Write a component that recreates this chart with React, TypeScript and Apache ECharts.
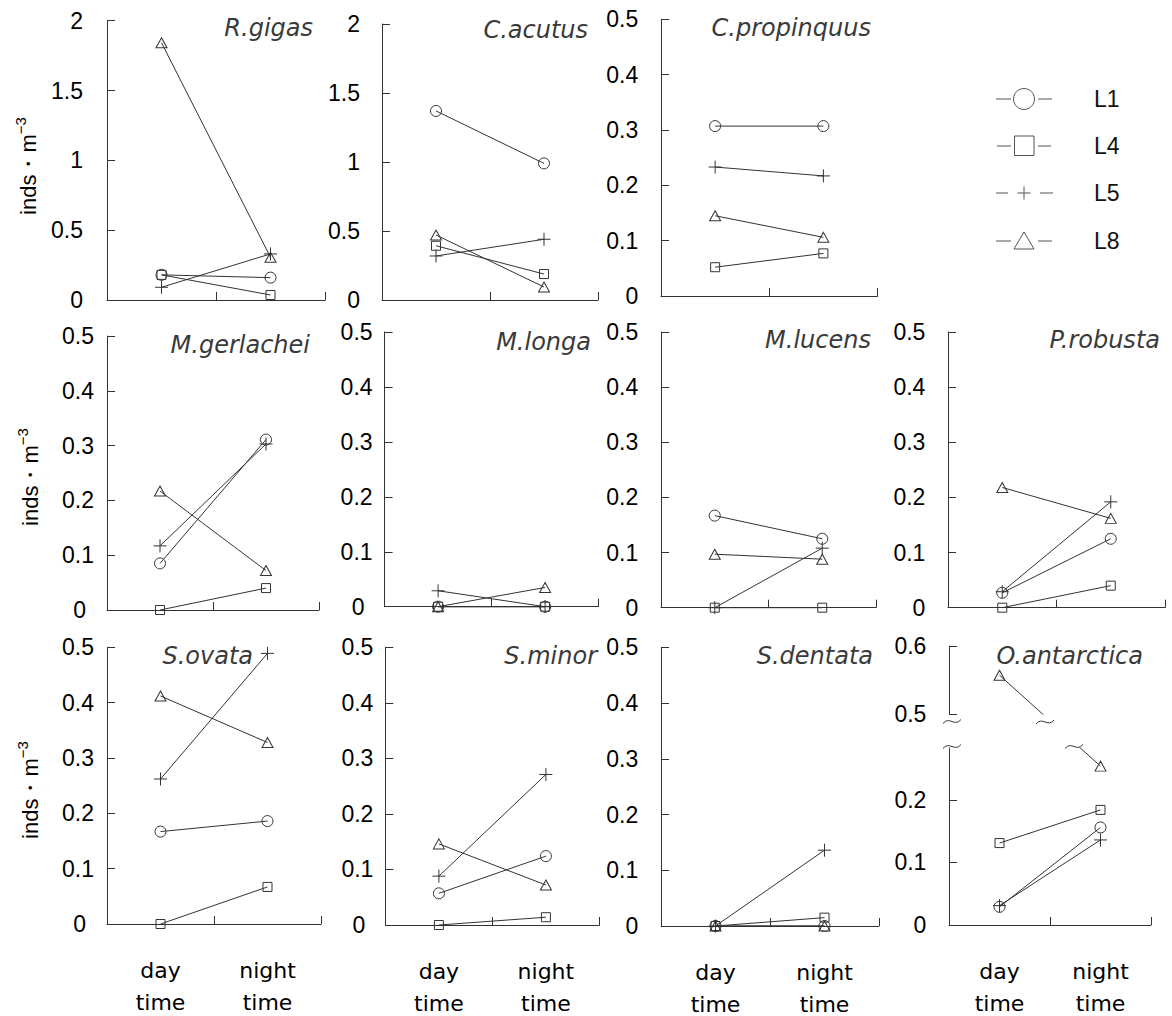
import React, { useEffect, useRef } from 'react';
import * as echarts from 'echarts';

// ---------- data ----------
const periods = ['day\ntime', 'night\ntime'];
const stationNames = ['L1', 'L4', 'L5', 'L8'];
const speciesNames = [
  'R.gigas', 'C.acutus', 'C.propinquus',
  'M.gerlachei', 'M.longa', 'M.lucens', 'P.robusta',
  'S.ovata', 'S.minor', 'S.dentata', 'O.antarctica',
];

// inds·m-3, one value per species (same order as speciesNames)
const l1Day = [0.18, 1.37, 0.307, 0.085, 0, 0.167, 0.027, 0.167, 0.057, 0, 0.029];
const l1Night = [0.16, 0.99, 0.307, 0.311, 0, 0.125, 0.125, 0.186, 0.124, 0, 0.156];
const l4Day = [0.18, 0.393, 0.052, 0, 0, 0, 0, 0, 0, 0, 0.131];
const l4Night = [0.036, 0.188, 0.077, 0.04, 0, 0, 0.04, 0.067, 0.014, 0.015, 0.184];
const l5Day = [0.091, 0.319, 0.233, 0.117, 0.029, 0, 0.029, 0.262, 0.088, 0, 0.031];
const l5Night = [0.33, 0.44, 0.217, 0.303, 0, 0.108, 0.192, 0.489, 0.271, 0.136, 0.136];
const l8Day = [1.842, 0.471, 0.145, 0.217, 0, 0.097, 0.218, 0.412, 0.146, 0, 0.557];
const l8Night = [0.306, 0.094, 0.106, 0.072, 0.035, 0.088, 0.162, 0.328, 0.072, 0, 0.254];

const yMaxes = [2, 2, 0.5, 0.5, 0.5, 0.5, 0.5, 0.5, 0.5, 0.5, 0.283];
const yIntervals = [0.5, 0.5, 0.1, 0.1, 0.1, 0.1, 0.1, 0.1, 0.1, 0.1, 0.1];
const brokenUpperRange = [0.5, 0.6];
const brokenLowerTicks = [0, 0.1, 0.2];

// ---------- layout ----------
const panels = [
  { left: 107, top: 20.7, width: 218, height: 279.3, margin: 24, zeroPad: 0, row: 0 },
  { left: 382, top: 24, width: 216, height: 276, margin: 22, zeroPad: 0, row: 0 },
  { left: 661, top: 19.3, width: 216.5, height: 276.7, margin: 22.7, zeroPad: 0, row: 0 },
  { left: 107, top: 336, width: 212, height: 274, margin: 13, zeroPad: 8, row: 1 },
  { left: 384.6, top: 332, width: 214, height: 274.7, margin: 12, zeroPad: 8, row: 1 },
  { left: 661, top: 332, width: 215, height: 275.7, margin: 22.7, zeroPad: 0, row: 1 },
  { left: 948, top: 332, width: 217, height: 275.7, margin: 22.6, zeroPad: 0, row: 1 },
  { left: 107, top: 647.3, width: 214, height: 276.7, margin: 13, zeroPad: 8, row: 2 },
  { left: 385.4, top: 647.3, width: 214, height: 277.7, margin: 12, zeroPad: 8, row: 2 },
  { left: 661, top: 647.3, width: 218, height: 278.7, margin: 22.7, zeroPad: 0, row: 2 },
  { left: 949, top: 748, width: 202, height: 177, margin: 22.6, zeroPad: 0, row: 2 },
];
const brokenUpper = { left: 949, top: 646, width: 202, height: 68, margin: 22.6 };

const speciesLabelPos = [
  [313, 28], [588, 30], [871, 28],
  [310, 345], [591, 342], [871, 340], [1160, 340],
  [253, 656], [597, 656], [873, 656], [1143, 656],
];
const yTitlePos = [[26, 166], [28, 477], [28, 790]];
const legendRowsY = [99, 146, 193, 241];

const FONT_NUM = 'Liberation Sans';
const FONT_TXT = 'DejaVu Sans';
const INK = '#333';
const TICK_FONT = 23;

const markerSymbols = ['circle', 'rect', 'path://M6,0L6,12M0,6L12,6', 'triangle'];
const markerSizes: any[] = [11, 9, 13, [11, 10]];
const stationData = [[l1Day, l1Night], [l4Day, l4Night], [l5Day, l5Night], [l8Day, l8Night]];

function makeXAxis(gridIndex: number, showLabels: boolean, show = true) {
  return {
    type: 'category', gridIndex, data: periods, boundaryGap: true, show,
    axisLine: { show: true, onZero: false, lineStyle: { color: INK, width: 1 } },
    axisTick: { show: true, inside: true, length: 8, lineStyle: { color: INK, width: 1 } },
    axisLabel: {
      show: showLabels, margin: 30, fontSize: 22, lineHeight: 32,
      fontFamily: FONT_TXT, color: '#000',
    },
    splitLine: { show: false },
  };
}

function makeYAxis(gridIndex: number, min: number, max: number, interval: number | undefined,
  margin: number, zeroPad: number, custom?: number[]) {
  const tick: any = { show: true, inside: true, length: 8, lineStyle: { color: INK, width: 1 } };
  const label: any = { margin, fontSize: TICK_FONT, fontFamily: FONT_NUM, color: '#000' };
  if (zeroPad) {
    label.formatter = (v: number) => {
      const t = String(+Number(v).toFixed(2));
      return v === 0 ? `{z|${t}}` : t;
    };
    label.rich = { z: { padding: [0, zeroPad, 0, 0], fontSize: TICK_FONT, fontFamily: FONT_NUM, color: '#000' } };
  }
  if (custom) { tick.customValues = custom; label.customValues = custom; }
  const ax: any = {
    type: 'value', gridIndex, min, max,
    axisLine: { show: true, lineStyle: { color: INK, width: 1 } },
    axisTick: tick, axisLabel: label, splitLine: { show: false },
  };
  if (interval !== undefined) ax.interval = interval;
  return ax;
}

function lineSeries(name: string, s: number, xIdx: number, data: any[], clip = false) {
  return {
    type: 'line', name, xAxisIndex: xIdx, yAxisIndex: xIdx, data,
    symbol: markerSymbols[s], symbolSize: markerSizes[s], symbolKeepAspect: false,
    itemStyle: { color: 'rgba(0,0,0,0)', borderColor: INK, borderWidth: 1 },
    lineStyle: { color: INK, width: 1 },
    silent: true, clip, emphasis: { disabled: true }, z: 3,
  };
}

function tilde(x: number, y: number, w: number) {
  return {
    type: 'bezierCurve',
    shape: { x1: x, y1: y + 2, cpx1: x + w * 0.35, cpy1: y - 6, cpx2: x + w * 0.65, cpy2: y + 6, x2: x + w, y2: y - 2 },
    style: { stroke: INK, lineWidth: 1, fill: 'none' },
    silent: true, z: 10,
  };
}

function buildOption() {
  const grid: any[] = [];
  const xAxis: any[] = [];
  const yAxis: any[] = [];
  const series: any[] = [];

  panels.forEach((p, i) => {
    grid.push({ left: p.left, top: p.top, width: p.width, height: p.height, outerBoundsMode: 'none' });
    xAxis.push(makeXAxis(i, p.row === 2));
    if (i === 10) {
      yAxis.push(makeYAxis(i, 0, yMaxes[i], undefined, p.margin, 0, brokenLowerTicks));
    } else {
      yAxis.push(makeYAxis(i, 0, yMaxes[i], yIntervals[i], p.margin, p.zeroPad));
    }
  });
  const up = 11;
  grid.push({ left: brokenUpper.left, top: brokenUpper.top, width: brokenUpper.width, height: brokenUpper.height, outerBoundsMode: 'none' });
  xAxis.push(makeXAxis(up, false, false));
  yAxis.push(makeYAxis(up, brokenUpperRange[0], brokenUpperRange[1], 0.1, brokenUpper.margin, 0));

  const lower = panels[10];
  const scaleU = brokenUpper.height / (brokenUpperRange[1] - brokenUpperRange[0]);
  const bottomU = brokenUpper.top + brokenUpper.height;
  const scaleL = lower.height / yMaxes[10];
  const bottomL = lower.top + lower.height;

  panels.forEach((_p, i) => {
    stationData.forEach((pair, s) => {
      const day = pair[0][i];
      const night = pair[1][i];
      if (i === 10 && day > yMaxes[10]) {
        const dayPx = bottomU - (day - brokenUpperRange[0]) * scaleU;
        const nightPx = bottomL - night * scaleL;
        const nightInUpper = brokenUpperRange[0] + (bottomU - nightPx) / scaleU;
        const dayInLower = (bottomL - dayPx) / scaleL;
        series.push(lineSeries(stationNames[s], s, up, [{ value: day }, { value: nightInUpper, symbol: 'none' }], true));
        series.push(lineSeries(stationNames[s], s, i, [{ value: dayInLower, symbol: 'none' }, { value: night }], true));
      } else {
        series.push(lineSeries(stationNames[s], s, i, [day, night], false));
      }
    });
  });

  const graphic: any[] = [];
  speciesNames.forEach((name, i) => {
    graphic.push({
      type: 'text', x: speciesLabelPos[i][0], y: speciesLabelPos[i][1], silent: true,
      style: {
        text: name, align: 'right', verticalAlign: 'middle', fill: '#3a3a3a',
        fontStyle: 'italic', fontWeight: 200, fontSize: 24, fontFamily: FONT_TXT,
      },
    });
  });
  yTitlePos.forEach(([x, y]) => {
    graphic.push({
      type: 'text', x, y, rotation: Math.PI / 2, silent: true,
      style: {
        text: '{m|inds・m}{s|−3}', align: 'center', verticalAlign: 'middle', fill: '#000',
        rich: {
          m: { fontSize: 22, fontFamily: 'Liberation Sans', lineHeight: 26, verticalAlign: 'bottom', fill: '#000' },
          s: { fontSize: 15, fontFamily: 'Liberation Sans', lineHeight: 15, verticalAlign: 'top', fill: '#000' },
        },
      },
    });
  });
  const lg = { stroke: '#555', lineWidth: 1, fill: 'none' };
  const dash = (x1: number, x2: number, y: number) => ({ type: 'line', silent: true, shape: { x1, y1: y, x2, y2: y }, style: { stroke: '#555', lineWidth: 1 } });
  const [y1, y4, y5, y8] = legendRowsY;
  graphic.push(dash(996, 1011, y1), dash(1038, 1052, y1),
    { type: 'circle', silent: true, shape: { cx: 1024, cy: y1, r: 10.5 }, style: lg });
  graphic.push(dash(997, 1011, y4), dash(1038, 1051, y4),
    { type: 'rect', silent: true, shape: { x: 1014.5, y: y4 - 10, width: 19.5, height: 19.5 }, style: lg });
  graphic.push(dash(996, 1008, y5), dash(1040, 1053, y5),
    { type: 'line', silent: true, shape: { x1: 1017.5, y1: y5, x2: 1030.5, y2: y5 }, style: { stroke: '#555', lineWidth: 1 } },
    { type: 'line', silent: true, shape: { x1: 1024, y1: y5 - 6.5, x2: 1024, y2: y5 + 6.5 }, style: { stroke: '#555', lineWidth: 1 } });
  graphic.push(dash(996, 1011, y8), dash(1038, 1052, y8),
    { type: 'polygon', silent: true, shape: { points: [[1024, y8 - 9], [1014, y8 + 8], [1034, y8 + 8]] }, style: lg });
  stationNames.forEach((n, k) => {
    graphic.push({
      type: 'text', x: 1094, y: legendRowsY[k], silent: true,
      style: { text: n, align: 'left', verticalAlign: 'middle', fill: '#111', fontSize: 23, fontFamily: FONT_NUM },
    });
  });
  graphic.push(tilde(943, 721.5, 18), tilde(943, 746.5, 18), tilde(1036, 722, 18), tilde(1065, 746.5, 18));

  return {
    animation: false,
    backgroundColor: '#fff',
    grid, xAxis, yAxis, series, graphic,
  };
}

export default function App() {
  const ref = useRef<HTMLDivElement>(null);
  useEffect(() => {
    document.body.style.margin = '0';
    if (!ref.current) return;
    const chart = echarts.init(ref.current, undefined, { renderer: 'svg' });
    chart.setOption(buildOption() as any);
    return () => chart.dispose();
  }, []);
  return <div ref={ref} style={{ position: 'absolute', left: 0, top: 0, width: 1172, height: 1016 }} />;
}
